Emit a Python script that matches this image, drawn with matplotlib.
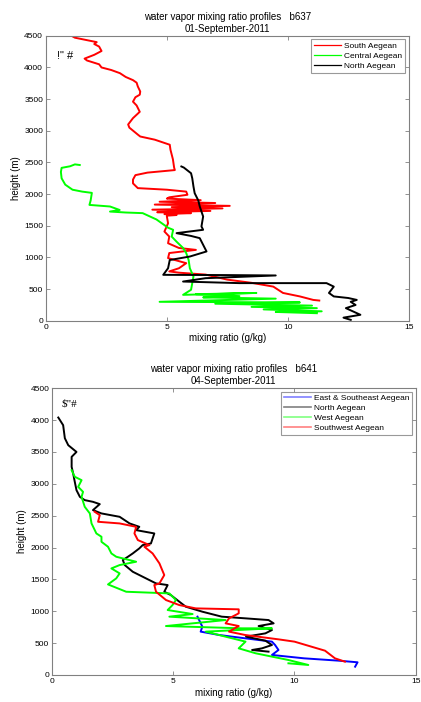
import matplotlib
matplotlib.use("Agg")
import matplotlib.pyplot as plt
from matplotlib.lines import Line2D

plt.rcParams['font.family'] = ['Liberation Sans', 'DejaVu Sans']

# ---------------- data: top panel (b637) ----------------
top_title = "water vapor mixing ratio profiles   b637\n01-September-2011"
top_labels = ["South Aegean", "Central Aegean", "North Aegean"]

south_x = [1.06, 1.2, 2.1, 2.0, 2.2, 2.3, 2.0, 1.6, 1.7, 2.2, 2.3, 2.7, 3.06, 3.3, 3.6, 3.75, 3.8, 3.9, 3.88,
           3.7, 3.6, 3.75, 3.88, 3.6, 3.4, 3.45, 3.8, 3.9, 4.5, 5.12, 5.15, 5.25, 5.3, 5.33, 4.2, 3.7, 3.6,
           3.6, 3.8, 5.0, 5.8, 5.85, 5.1, 5.0, 6.4, 4.7, 7.0, 4.5, 7.6, 5.2, 7.3, 4.4, 6.8, 4.6, 6.0, 4.9,
           5.4, 5.0, 5.0, 5.05, 4.9, 5.1, 5.05, 5.5, 6.2, 5.1, 5.05, 5.8, 5.5, 5.1, 5.5, 6.6, 7.5, 8.5, 9.4,
           9.8, 10.5, 11.05, 11.3]
south_h = [4500, 4470, 4400, 4370, 4330, 4260, 4200, 4140, 4110, 4050, 4000, 3960, 3910, 3850, 3800, 3760,
           3700, 3620, 3570, 3530, 3460, 3400, 3300, 3200, 3100, 3050, 2940, 2910, 2860, 2780, 2700, 2550,
           2420, 2380, 2340, 2300, 2230, 2170, 2095, 2070, 2040, 1990, 1950, 1930, 1905, 1880, 1860, 1835,
           1815, 1795, 1775, 1755, 1735, 1715, 1700, 1685, 1670, 1660, 1650, 1540, 1410, 1330, 1225, 1150,
           1120, 1070, 990, 910, 830, 780, 760, 730, 650, 600, 540, 440, 385, 330, 320]

central_x = [1.4, 1.2, 1.0, 0.65, 0.62, 0.65, 0.8, 1.1, 1.5, 1.9, 1.85, 1.8, 2.65, 3.05, 2.65, 3.3, 4.0,
             4.57, 5.05, 5.26, 5.2, 5.4, 5.67, 5.8, 5.9, 5.95, 6.1, 6.0, 5.67, 8.7, 6.2, 8.0, 6.5, 9.5,
             4.7, 10.5, 7.0, 11.0, 8.5, 11.2, 9.0, 11.4, 9.5, 11.2]
central_h = [2460, 2470, 2440, 2415, 2350, 2250, 2150, 2070, 2040, 2020, 1900, 1830, 1805, 1750, 1725,
             1710, 1700, 1600, 1470, 1437, 1330, 1250, 1150, 1070, 960, 830, 700, 490, 410, 440, 420,
             390, 370, 350, 300, 290, 270, 240, 220, 200, 180, 150, 140, 120]

north_x = [5.6, 5.7, 6.0, 6.05, 6.1, 6.15, 6.3, 6.36, 6.5, 6.43, 6.5, 5.4, 6.0, 6.36, 6.57, 6.64, 5.95,
           5.12, 5.05, 4.85, 7.5, 9.5, 6.6, 5.67, 8.0, 11.6, 11.9, 11.7, 11.9, 12.5, 12.85, 12.6, 12.8,
           12.4, 13.0, 12.3, 12.6]
north_h = [2437, 2420, 2330, 2250, 2120, 2015, 1900, 1805, 1647, 1490, 1437, 1384, 1340, 1305, 1147,
           1095, 1015, 960, 830, 726, 722, 716, 673, 620, 595, 595, 540, 440, 385, 360, 330, 300, 250,
           200, 95, 50, 15]

# ---------------- data: bottom panel (b641) ----------------
bot_title = "water vapor mixing ratio profiles   b641\n04-September-2011"
bot_labels = ["East & Southeast Aegean", "North Aegean", "West Aegean", "Southwest Aegean"]

east_x = [6.0, 6.2, 6.13, 6.9, 7.97, 9.07, 9.2, 9.34, 9.07, 10.4, 11.8, 12.6, 12.5]
east_h = [915, 758, 680, 627, 575, 523, 470, 392, 314, 261, 225, 199, 130]

north2_x = [0.26, 0.46, 0.53, 0.67, 1.01, 0.81, 0.81, 0.87, 0.94, 1.01, 1.15, 1.35, 1.69, 1.97, 1.69,
            2.04, 2.79, 3.2, 3.6, 3.47, 4.22, 4.08, 3.74, 3.6, 3.33, 3.13, 2.92, 3.0, 3.33, 3.88, 4.29,
            4.77, 4.63, 4.9, 5.25, 5.52, 6.2, 7.0, 8.0, 8.93, 9.14, 8.52, 9.07, 8.8, 8.0, 8.8, 9.07,
            8.66, 8.25, 8.93]
north2_h = [4040, 3920, 3715, 3606, 3500, 3423, 3266, 3166, 3030, 2900, 2795, 2744, 2717, 2681, 2587,
            2535, 2482, 2378, 2325, 2273, 2221, 2064, 2038, 1986, 1907, 1855, 1803, 1725, 1620, 1515,
            1437, 1411, 1306, 1254, 1150, 1071, 993, 915, 888, 862, 810, 768, 705, 653, 601, 538, 470,
            418, 392, 366]

west_x = [0.81, 0.94, 1.22, 1.08, 1.28, 1.22, 1.35, 1.56, 1.63, 1.83, 2.04, 2.04, 2.31, 2.45, 2.65,
          3.47, 2.79, 2.45, 2.79, 2.65, 2.31, 3.06, 4.84, 5.11, 4.97, 4.77, 5.8, 4.84, 7.16, 4.7, 7.84,
          9.07, 6.34, 7.16, 7.98, 7.7, 8.4, 9.75, 10.57, 9.75]
west_h = [3214, 3110, 3057, 2952, 2874, 2795, 2639, 2535, 2378, 2221, 2169, 2090, 2012, 1907, 1855,
          1777, 1725, 1672, 1594, 1516, 1421, 1306, 1280, 1176, 1097, 1019, 956, 915, 862, 768, 732,
          732, 680, 601, 523, 418, 340, 235, 157, 183]

southwest_x = [1.76, 1.97, 1.9, 2.79, 3.47, 3.4, 3.54, 4.02, 3.81, 4.15, 4.43, 4.63, 4.43, 4.22, 4.29,
               4.7, 5.25, 5.93, 7.7, 7.7, 7.3, 7.16, 7.7, 7.3, 7.97, 9.34, 10.0, 10.7, 11.26, 11.67, 12.08]
southwest_h = [2561, 2508, 2404, 2378, 2325, 2221, 2117, 2038, 2012, 1907, 1751, 1568, 1437, 1411, 1306,
               1176, 1097, 1045, 1030, 967, 888, 810, 768, 680, 627, 559, 523, 444, 381, 261, 209]

xticks = [0, 5, 10, 15]
yticks = [0, 500, 1000, 1500, 2000, 2500, 3000, 3500, 4000, 4500]

fig = plt.figure(figsize=(4.21, 7.02), dpi=100)
ax1 = fig.add_axes([0.109, 0.543, 0.862, 0.406])
ax2 = fig.add_axes([0.1235, 0.0385, 0.864, 0.4085])

spine_c = '#808080'


def style(ax, title):
    ax.set_xlim(0, 15)
    ax.set_ylim(0, 4500)
    ax.set_xticks(xticks)
    ax.set_yticks(yticks)
    ax.tick_params(direction='in', length=3, width=0.6, color=spine_c, labelsize=6,
                   top=True, right=True, pad=2)
    for s in ax.spines.values():
        s.set_color(spine_c)
        s.set_linewidth(0.8)
    ax.set_title(title, fontsize=7, pad=3, linespacing=1.2)
    ax.set_xlabel("mixing ratio (g/kg)", fontsize=7, labelpad=2)
    ax.set_ylabel("height (m)", fontsize=7, labelpad=2)


lw = 1.4
ax1.plot(south_x, south_h, color='#ff0000', lw=lw)
ax1.plot(central_x, central_h, color='#00ff00', lw=lw)
ax1.plot(north_x, north_h, color='#000000', lw=lw)
style(ax1, top_title)
ax1.text(0.45, 4180, '!" #', fontsize=8, va='center')
h1 = [Line2D([], [], color=c, lw=0.9) for c in ['#ff0000', '#00ff00', '#000000']]
leg1 = ax1.legend(h1, top_labels, loc='upper right', fontsize=6, handlelength=3.2,
                  frameon=True, fancybox=False, borderaxespad=0.4, labelspacing=0.25,
                  handletextpad=0.4, borderpad=0.35)
leg1.get_frame().set_edgecolor(spine_c)
leg1.get_frame().set_linewidth(0.8)

ax2.plot(east_x, east_h, color='#0000ff', lw=lw)
ax2.plot(north2_x, north2_h, color='#000000', lw=lw)
ax2.plot(west_x, west_h, color='#00ff00', lw=lw)
ax2.plot(southwest_x, southwest_h, color='#ff0000', lw=lw)
style(ax2, bot_title)
ax2.text(0.4, 4260, '$"#', fontsize=8, family='Liberation Serif', va='center')
h2 = [Line2D([], [], color=c, lw=1.2) for c in ['#8080ff', '#808080', '#80ff80', '#ff8080']]
leg2 = ax2.legend(h2, bot_labels, loc='upper right', fontsize=6, handlelength=3.2,
                  frameon=True, fancybox=False, borderaxespad=0.4, labelspacing=0.25,
                  handletextpad=0.4, borderpad=0.35)
leg2.get_frame().set_edgecolor(spine_c)
leg2.get_frame().set_linewidth(0.8)

fig.savefig("out.png", dpi=100)
